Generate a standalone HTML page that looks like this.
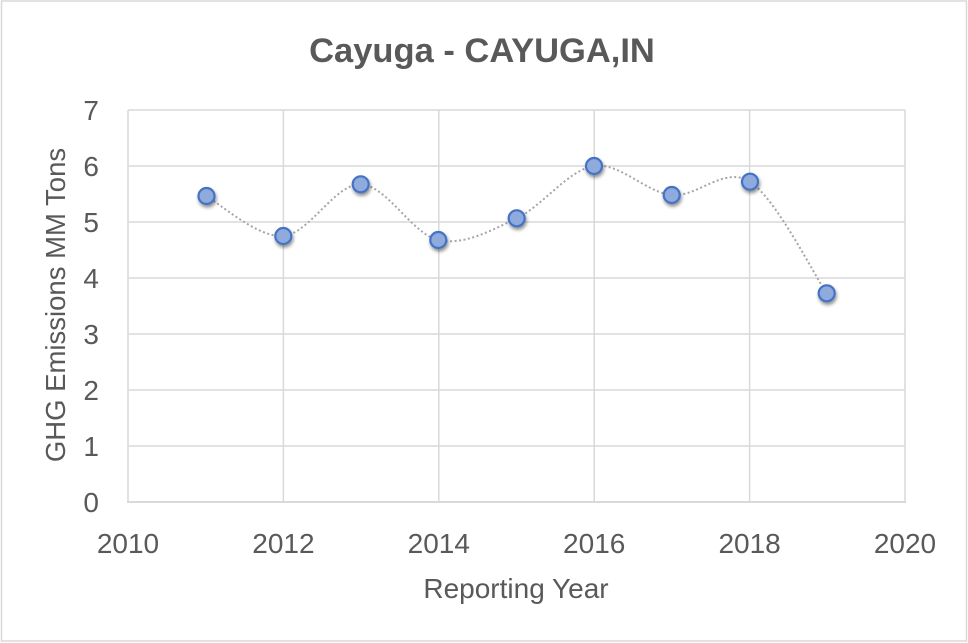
<!DOCTYPE html>
<html>
<head>
<meta charset="utf-8">
<style>
  html, body { margin:0; padding:0; background:#fff; }
  svg { display:block; }
  text { font-family: "Liberation Sans", sans-serif; fill:#595959; }
</style>
</head>
<body>
<svg width="968" height="643" viewBox="0 0 968 643" xmlns="http://www.w3.org/2000/svg">
  <defs>
    <filter id="sh" x="-50%" y="-50%" width="200%" height="200%">
      <feGaussianBlur in="SourceAlpha" stdDeviation="1.8"/>
      <feOffset dx="1" dy="2.5" result="b"/>
      <feComponentTransfer><feFuncA type="linear" slope="0.45"/></feComponentTransfer>
      <feMerge><feMergeNode/><feMergeNode in="SourceGraphic"/></feMerge>
    </filter>
  </defs>
  <rect x="0" y="0" width="968" height="643" fill="#fff"/>
  <rect x="1.5" y="1" width="965" height="640" fill="none" stroke="#D9D9D9" stroke-width="1.5"/>

  <text x="482" y="62" font-size="34.5" font-weight="bold" text-anchor="middle">Cayuga - CAYUGA,IN</text>

  <!-- grid -->
  <g stroke="#D9D9D9" stroke-width="1.5" fill="none">
    <line x1="128" y1="110" x2="905" y2="110"/>
    <line x1="128" y1="166" x2="905" y2="166"/>
    <line x1="128" y1="222" x2="905" y2="222"/>
    <line x1="128" y1="278" x2="905" y2="278"/>
    <line x1="128" y1="334" x2="905" y2="334"/>
    <line x1="128" y1="390" x2="905" y2="390"/>
    <line x1="128" y1="446" x2="905" y2="446"/>
    <line x1="128" y1="110" x2="128" y2="502"/>
    <line x1="283.4" y1="110" x2="283.4" y2="502"/>
    <line x1="438.8" y1="110" x2="438.8" y2="502"/>
    <line x1="594.2" y1="110" x2="594.2" y2="502"/>
    <line x1="749.6" y1="110" x2="749.6" y2="502"/>
    <line x1="905" y1="110" x2="905" y2="502"/>
  </g>
  <line x1="127" y1="502" x2="906" y2="502" stroke="#D9D9D9" stroke-width="2"/>

  <!-- y tick labels -->
  <g font-size="28" text-anchor="end">
    <text x="99" y="512">0</text>
    <text x="99" y="456">1</text>
    <text x="99" y="400">2</text>
    <text x="99" y="344">3</text>
    <text x="99" y="288">4</text>
    <text x="99" y="232">5</text>
    <text x="99" y="176">6</text>
    <text x="99" y="120">7</text>
  </g>
  <!-- x tick labels -->
  <g font-size="28" text-anchor="middle">
    <text x="128" y="553">2010</text>
    <text x="283.4" y="553">2012</text>
    <text x="438.8" y="553">2014</text>
    <text x="594.2" y="553">2016</text>
    <text x="749.6" y="553">2018</text>
    <text x="905" y="553">2020</text>
  </g>

  <text x="516" y="598" font-size="28" text-anchor="middle">Reporting Year</text>
  <text transform="translate(65,305) rotate(-90)" font-size="27.5" text-anchor="middle">GHG Emissions MM Tons</text>

  <!-- series line -->
  <path d="M206,196 C218.9,202.7 257.5,238 283.3,236 C309.1,234.05 334.9,183.6 360.7,184.3 C386.5,185 412.3,234.3 438.3,240 C464.3,245.7 490.75,230.6 516.7,218.3 C542.65,206 568.2,169.9 594,166 C619.8,162.1 645.7,192.4 671.7,195 C697.7,197.6 724.2,165.3 750,181.7 C775.8,198.1 813.9,274.7 826.7,293.3"
        fill="none" stroke="#A6A6A6" stroke-width="2" stroke-dasharray="2,2.5"/>

  <!-- markers -->
  <g fill="#8FAADC" stroke="#4472C4" stroke-width="2.2" filter="url(#sh)">
    <circle cx="206.5" cy="196" r="8"/>
    <circle cx="283.3" cy="236" r="8"/>
    <circle cx="360.7" cy="184.3" r="8"/>
    <circle cx="438.3" cy="240" r="8"/>
    <circle cx="516.7" cy="218.3" r="8"/>
    <circle cx="594" cy="166" r="8"/>
    <circle cx="671.7" cy="195" r="8"/>
    <circle cx="750" cy="181.7" r="8"/>
    <circle cx="826.7" cy="293.3" r="8"/>
  </g>
</svg>
</body>
</html>
